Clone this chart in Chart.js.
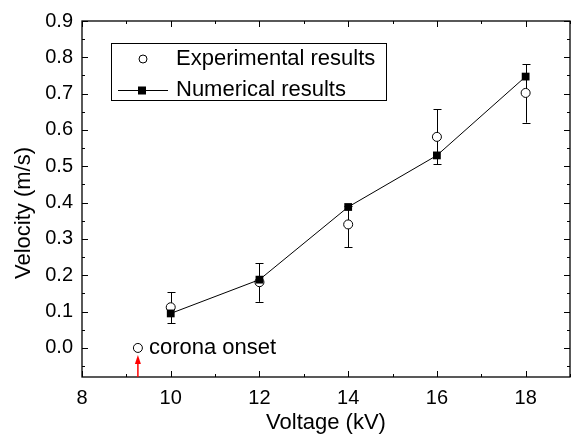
<!DOCTYPE html>
<html>
<head>
<meta charset="utf-8">
<script src="https://cdn.jsdelivr.net/npm/chart.js@4.4.1/dist/chart.umd.min.js"></script>
<style>
  html, body { margin: 0; padding: 0; background: #fff; }
  #wrap { width: 579px; height: 439px; }
</style>
</head>
<body>
<div id="wrap"><canvas id="myChart"></canvas></div>
<script>
/* ------------------------------ Data ------------------------------ */
const voltages = [10, 12, 14, 16, 18];
const expValues = [0.112, 0.181, 0.340, 0.581, 0.702];
const expErrLow = [0.068, 0.127, 0.277, 0.505, 0.620];
const expErrHigh = [0.154, 0.233, 0.392, 0.657, 0.781];
const numValues = [0.095, 0.188, 0.388, 0.530, 0.747];
const onsetVoltage = 9.26;
const onsetValue = 0.0;
const onsetLabel = 'corona onset';
const xTicks = [8, 10, 12, 14, 16, 18];
const xMinorTicks = [9, 11, 13, 15, 17, 19];
const yTicks = [0.0, 0.1, 0.2, 0.3, 0.4, 0.5, 0.6, 0.7, 0.8, 0.9];
const yMinorTicks = [-0.05, 0.05, 0.15, 0.25, 0.35, 0.45, 0.55, 0.65, 0.75, 0.85];
const legendLabels = ['Experimental results', 'Numerical results'];
const yTitle = 'Velocity (m/s)';

const FONT = '"Liberation Sans", Arial, sans-serif';

/* ------------------------------ Plugins ------------------------------ */
// error bars under the markers
const errorBars = {
    id: 'errorBars',
    beforeDatasetsDraw(chart) {
        const ctx = chart.ctx;
        const x = chart.scales.x, y = chart.scales.y;
        ctx.save();
        ctx.strokeStyle = '#000';
        ctx.lineWidth = 1;
        voltages.forEach((v, i) => {
            const px = Math.round(x.getPixelForValue(v)) + 0.5;
            const lo = y.getPixelForValue(expErrLow[i]);
            const hi = y.getPixelForValue(expErrHigh[i]);
            ctx.beginPath();
            ctx.moveTo(px, lo); ctx.lineTo(px, hi);
            ctx.moveTo(px - 4, Math.round(lo) + 0.5); ctx.lineTo(px + 4, Math.round(lo) + 0.5);
            ctx.moveTo(px - 4, Math.round(hi) + 0.5); ctx.lineTo(px + 4, Math.round(hi) + 0.5);
            ctx.stroke();
        });
        ctx.restore();
    }
};

// frame, inward ticks, legend box, annotation
const decorations = {
    id: 'decorations',
    afterDraw(chart) {
        const ctx = chart.ctx;
        const a = chart.chartArea;
        const x = chart.scales.x, y = chart.scales.y;
        ctx.save();
        ctx.strokeStyle = '#000';
        ctx.lineWidth = 1.3;
        ctx.strokeRect(a.left, a.top, a.right - a.left, a.bottom - a.top);

        ctx.lineWidth = 1;
        ctx.beginPath();
        xTicks.forEach(v => {
            const px = Math.round(x.getPixelForValue(v)) + 0.5;
            ctx.moveTo(px, a.bottom); ctx.lineTo(px, a.bottom - 6);
            ctx.moveTo(px, a.top); ctx.lineTo(px, a.top + 6);
        });
        xMinorTicks.forEach(v => {
            const px = Math.round(x.getPixelForValue(v)) + 0.5;
            ctx.moveTo(px, a.bottom); ctx.lineTo(px, a.bottom - 3);
            ctx.moveTo(px, a.top); ctx.lineTo(px, a.top + 3);
        });
        yTicks.forEach(v => {
            const py = Math.round(y.getPixelForValue(v)) + 0.5;
            ctx.moveTo(a.left, py); ctx.lineTo(a.left + 6, py);
            ctx.moveTo(a.right, py); ctx.lineTo(a.right - 6, py);
        });
        yMinorTicks.forEach(v => {
            const py = Math.round(y.getPixelForValue(v)) + 0.5;
            ctx.moveTo(a.left, py); ctx.lineTo(a.left + 3, py);
            ctx.moveTo(a.right, py); ctx.lineTo(a.right - 3, py);
        });
        ctx.stroke();

        // y axis title (sits a little below the middle in the original)
        ctx.save();
        ctx.translate(24, 213);
        ctx.rotate(-Math.PI / 2);
        ctx.fillStyle = '#000';
        ctx.font = '22px ' + FONT;
        ctx.textAlign = 'center';
        ctx.textBaseline = 'middle';
        ctx.fillText(yTitle, 0, 0);
        ctx.restore();

        // red arrow at corona onset
        const ax = x.getPixelForValue(onsetVoltage);
        const aTop = y.getPixelForValue(onsetValue) + 7;
        ctx.strokeStyle = '#ff0000';
        ctx.fillStyle = '#ff0000';
        ctx.lineWidth = 1.5;
        ctx.beginPath();
        ctx.moveTo(ax, a.bottom); ctx.lineTo(ax, aTop + 6);
        ctx.stroke();
        ctx.beginPath();
        ctx.moveTo(ax, aTop); ctx.lineTo(ax - 3, aTop + 9); ctx.lineTo(ax + 3, aTop + 9);
        ctx.closePath();
        ctx.fill();

        // label next to onset point
        ctx.fillStyle = '#000';
        ctx.font = '22px ' + FONT;
        ctx.textBaseline = 'middle';
        ctx.textAlign = 'left';
        ctx.fillText(onsetLabel, ax + 11, y.getPixelForValue(onsetValue));

        // legend box
        const lx = 111, ly = 43, lw = 275, lh = 57;
        ctx.strokeStyle = '#000';
        ctx.lineWidth = 1;
        ctx.strokeRect(lx + 0.5, ly + 0.5, lw, lh);
        const r1 = ly + 16, r2 = ly + 47;
        ctx.beginPath();
        ctx.arc(lx + 32, r1, 4, 0, Math.PI * 2);
        ctx.fillStyle = '#fff';
        ctx.fill();
        ctx.stroke();
        ctx.beginPath();
        ctx.moveTo(lx + 7, r2 + 0.5); ctx.lineTo(lx + 57, r2 + 0.5);
        ctx.stroke();
        ctx.fillStyle = '#000';
        ctx.fillRect(lx + 27, r2 - 3.5, 8, 8);
        ctx.font = '22px ' + FONT;
        ctx.fillText(legendLabels[0], lx + 65, r1);
        ctx.fillText(legendLabels[1], lx + 65, r2);
        ctx.restore();
    }
};

/* ------------------------------ Graphique ------------------------------ */
const expPoints = voltages.map((v, i) => ({ x: v, y: expValues[i] }));
expPoints.push({ x: onsetVoltage, y: onsetValue });
const numPoints = voltages.map((v, i) => ({ x: v, y: numValues[i] }));

const data = {
    datasets: [{
        label: legendLabels[1],
        type: 'line',
        data: numPoints,
        borderColor: '#000',
        backgroundColor: '#000',
        borderWidth: 1,
        pointStyle: 'rect',
        pointRadius: 5.5,
        pointBorderWidth: 0,
        order: 0
    }, {
        label: legendLabels[0],
        type: 'scatter',
        data: expPoints,
        borderColor: '#000',
        backgroundColor: '#fff',
        pointRadius: 4.5,
        pointBorderWidth: 1,
        showLine: false,
        order: 1
    }]
};

const config = {
    type: 'scatter',
    data: data,
    options: {
        responsive: true,
        maintainAspectRatio: false,
        animation: false,
        layout: { padding: { top: 14, right: 9, left: 0, bottom: 0 } },
        plugins: { legend: { display: false }, tooltip: { enabled: false } },
        scales: {
            x: {
                type: 'linear',
                min: 8,
                max: 19,
                grid: { display: false, drawTicks: false },
                border: { display: false },
                afterBuildTicks: s => { s.ticks = xTicks.map(v => ({ value: v })); },
                afterFit: s => { s.height = 62; },
                ticks: { color: '#000', font: { family: FONT, size: 20 }, padding: 9, maxRotation: 0 },
                title: { display: true, text: 'Voltage (kV)', color: '#000', font: { family: FONT, size: 22 }, padding: { top: 0, bottom: 3 } }
            },
            y: {
                type: 'linear',
                min: -0.08,
                max: 0.9,
                grid: { display: false, drawTicks: false },
                border: { display: false },
                afterBuildTicks: s => { s.ticks = yTicks.map(v => ({ value: v })); },
                afterFit: s => { s.width = 82; },
                ticks: { color: '#000', font: { family: FONT, size: 20 }, padding: 9, callback: v => v.toFixed(1) }
            }
        }
    },
    plugins: [errorBars, decorations]
};

const myChart = new Chart(document.getElementById('myChart'), config);
</script>
</body>
</html>
